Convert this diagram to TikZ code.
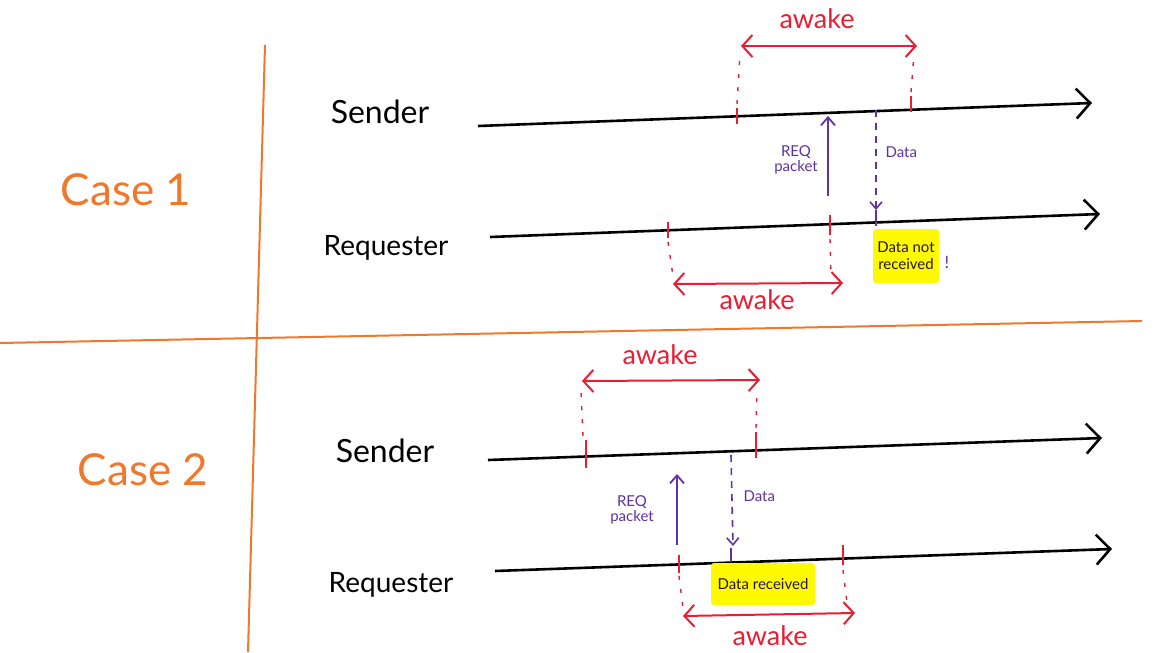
\documentclass[tikz,border=0pt]{standalone}
\usepackage{fontspec}
\setmainfont{Lato}
\usetikzlibrary{arrows.meta,calc}
\definecolor{caseor}{RGB}{240,120,45}
\definecolor{awred}{RGB}{232,30,50}
\definecolor{msgpu}{RGB}{95,50,165}
\definecolor{hilite}{RGB}{255,250,0}
\tikzset{
  timeline/.style={line width=2.6pt,-{Straight Barb[length=14pt,width=30pt,line width=2.6pt]}},
  divider/.style={caseor,line width=2pt},
  tick/.style={awred,line width=2.2pt},
  guide/.style={awred,line width=1.4pt,dash pattern=on 4pt off 9pt},
  awakearr/.style={awred,line width=2pt,{Straight Barb[length=10pt,width=22pt,line width=2pt]}-{Straight Barb[length=10pt,width=22pt,line width=2pt]}},
  awaketxt/.style={awred,font=\fontsize{27}{30}\selectfont},
  actor/.style={font=\fontsize{32}{36}\selectfont,anchor=center},
  casetxt/.style={caseor,font=\fontsize{44}{48}\selectfont},
  req/.style={msgpu,line width=1.8pt,-{Straight Barb[length=8pt,width=14pt,line width=1.8pt]}},
  data/.style={msgpu,line width=1.6pt,dash pattern=on 7pt off 6pt,-{Straight Barb[length=7pt,width=12pt,line width=1.6pt]}},
  msgtxt/.style={msgpu,font=\fontsize{15}{15}\selectfont,align=center},
  hl/.style={fill=hilite,font=\fontsize{15}{17}\selectfont,text=msgpu!40!black,align=center,rounded corners=3pt,inner sep=3pt}
}
\begin{document}
\begin{tikzpicture}[x=1pt,y=-1pt]
\useasboundingbox (0,0) rectangle (1162,653);
\fill[white] (0,0) rectangle (1162,653);
% dividers
\coordinate (vtop) at (265,45);
\coordinate (vbot) at (248,652);
\coordinate (hl) at (0,343);
\coordinate (hr) at (1142,321);
\draw[divider] (vtop) -- (vbot);
\draw[divider] (hl) -- (hr);
\node[casetxt] (c1) at (126,190) {Case 1};
\node[casetxt] (c2) at (143,470) {Case 2};
% ---------- Case 1 ----------
\node[actor] (s1) at (380,112) {Sender};
\node[actor,font=\fontsize{28}{30}\selectfont] (r1) at (386,248) {Requester};
\coordinate (s1a) at (478,126);
\coordinate (s1b) at (1092,103);
\coordinate (r1a) at (490,237);
\coordinate (r1b) at (1100,214);
\draw[timeline] (s1a) -- (s1b);
\draw[timeline] (r1a) -- (r1b);
% sender awake
\coordinate (t1a) at (737,116);
\coordinate (t1b) at (911,104);
\draw[tick] ($(t1a)+(0,-8)$) -- ($(t1a)+(0,8)$);
\draw[tick] ($(t1b)+(0,-8)$) -- ($(t1b)+(0,8)$);
\coordinate (w1a) at (741,46);
\coordinate (w1b) at (917,46);
\draw[guide] ($(t1a)+(0,-12)$) -- ($(w1a)+(-1,8)$);
\draw[guide] ($(t1b)+(0,-12)$) -- ($(w1b)+(-3,8)$);
\draw[awakearr] (w1a) -- (w1b);
\node[awaketxt] (aw1) at (817,19) {awake};
% requester awake
\coordinate (u1a) at (668,230);
\coordinate (u1b) at (830,225);
\draw[tick] ($(u1a)+(0,-8)$) -- ($(u1a)+(0,8)$);
\draw[tick] ($(u1b)+(0,-10)$) -- ($(u1b)+(0,10)$);
\coordinate (v1a) at (673,284);
\coordinate (v1b) at (843,283);
\draw[guide] ($(u1a)+(0,12)$) -- ($(v1a)+(0,-8)$);
\draw[guide] ($(u1b)+(0,14)$) -- ($(v1b)+(-12,-8)$);
\draw[awakearr] (v1a) -- (v1b);
\node[awaketxt] (aw2) at (757,300) {awake};
% messages
\coordinate (q1a) at (828,196);
\coordinate (q1b) at (828,116);
\draw[req] (q1a) -- (q1b);
\node[msgtxt] (q1t) at (796,160) {REQ\\packet};
\coordinate (d1a) at (876,110);
\coordinate (d1b) at (876,210);
\draw[data] (d1a) -- (d1b);
\draw[msgpu,line width=2.4pt] (876,210) -- (876,226);
\node[msgtxt,anchor=west] (d1t) at (882,152) {Data};
\node[hl,minimum width=66pt,minimum height=54pt] (nr) at (906,256) {Data not\\received};
\node[msgtxt,font=\fontsize{17}{18}\selectfont] (ex) at (947,262) {!};
% ---------- Case 2 ----------
\node[actor] (s2) at (385,451) {Sender};
\node[actor,font=\fontsize{28}{30}\selectfont] (r2) at (391,585) {Requester};
\coordinate (s2a) at (488,460);
\coordinate (s2b) at (1102,438);
\coordinate (r2a) at (495,571);
\coordinate (r2b) at (1112,549);
\draw[timeline] (s2a) -- (s2b);
\draw[timeline] (r2a) -- (r2b);
\coordinate (t2a) at (586,452);
\coordinate (t2b) at (756,446);
\draw[tick] ($(t2a)+(0,-12)$) -- ($(t2a)+(0,16)$);
\draw[tick] ($(t2b)+(0,-14)$) -- ($(t2b)+(0,12)$);
\coordinate (w2a) at (582,381);
\coordinate (w2b) at (760,380);
\draw[guide] ($(t2a)+(-3,-16)$) -- ($(w2a)+(-1,10)$);
\draw[guide] ($(t2b)+(0,-18)$) -- ($(w2b)+(-3,10)$);
\draw[awakearr] (w2a) -- (w2b);
\node[awaketxt] (aw3) at (660,355) {awake};
\coordinate (u2a) at (679,564);
\coordinate (u2b) at (843,556);
\draw[tick] ($(u2a)+(0,-9)$) -- ($(u2a)+(0,9)$);
\draw[tick] ($(u2b)+(0,-11)$) -- ($(u2b)+(0,9)$);
\coordinate (v2a) at (683,616);
\coordinate (v2b) at (855,613);
\draw[guide] ($(u2a)+(0,12)$) -- ($(v2a)+(0,-8)$);
\draw[guide] ($(u2b)+(0,14)$) -- ($(v2b)+(-8,-10)$);
\draw[awakearr] (v2a) -- (v2b);
\node[awaketxt] (aw4) at (770,636) {awake};
\coordinate (q2a) at (677,545);
\coordinate (q2b) at (677,474);
\draw[req] (q2a) -- (q2b);
\node[msgtxt] (q2t) at (632,510) {REQ\\packet};
\coordinate (d2a) at (731,455);
\coordinate (d2b) at (733,546);
\draw[data] (d2a) -- (d2b);
\draw[msgpu,line width=2.4pt] (731,548) -- (731,562);
\node[msgtxt,anchor=west] (d2t) at (740,496) {Data};
\node[hl,minimum width=104pt,minimum height=42pt] (rc) at (763,584) {Data received};
\end{tikzpicture}
\end{document}
